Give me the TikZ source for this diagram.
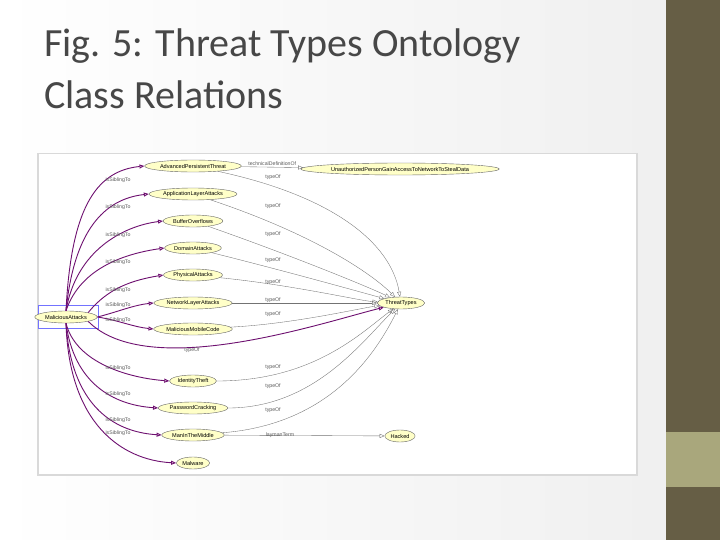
\documentclass[tikz,border=0pt]{standalone}
\usepackage{fontspec}
\setmainfont{Liberation Sans}
\newfontfamily\titlefont{Carlito}
\usetikzlibrary{shapes.geometric,arrows.meta}
\definecolor{olive}{HTML}{665E45}
\definecolor{khaki}{HTML}{A9A77C}
\definecolor{cls}{HTML}{FFFFC8}
\definecolor{purp}{HTML}{6E1070}
\tikzset{
 cnode/.style={ellipse,draw=black!60,fill=cls,font=\fontsize{5.6}{6.5}\selectfont,inner sep=1.2pt,minimum height=12pt},
 sib/.style={draw=purp,line width=0.9pt,-{Triangle[open,length=5pt,width=4pt]}},
 typ/.style={draw=black!55,line width=0.35pt,-{Triangle[open,length=5pt,width=4pt]}},
 lab/.style={font=\fontsize{5.2}{6}\selectfont,text=black!65,inner sep=0.5pt}
}
\begin{document}
\begin{tikzpicture}[x=1pt,y=-1pt]
\useasboundingbox (0,0) rectangle (720,540);
\fill[white] (0,0) rectangle (720,540);
\shade[left color=white,right color=black!6] (0,0) rectangle (666,540);
\fill[olive] (666,0) rectangle (720,540);
\fill[khaki] (666,432) rectangle (720,487);
\node[anchor=west,font=\titlefont\fontsize{40}{52}\selectfont,text=black!72,align=left,inner sep=0] (title) at (44,69) {Fig. 5: Threat Types Ontology\\Class Relations};
\node[draw=black!15,line width=1.5pt,fill=white,minimum width=599pt,minimum height=321pt,anchor=north west,inner sep=0] (frame) at (37,153) {};
\node[draw=blue!55,line width=0.8pt,minimum width=60pt,minimum height=23pt,inner sep=0] (sel) at (68,317) {};
\node[cnode] (m) at (66,317) {MaliciousAttacks};
\node[cnode] (n1) at (193,166) {AdvancedPersistentThreat};
\node[cnode] (n2) at (193,194) {ApplicationLayerAttacks};
\node[cnode] (n3) at (193,221) {BufferOverflows};
\node[cnode] (n4) at (193,248) {DomainAttacks};
\node[cnode] (n5) at (193,275) {PhysicalAttacks};
\node[cnode] (n6) at (193,303) {NetworkLayerAttacks};
\node[cnode] (n7) at (193,329) {MaliciousMobileCode};
\node[cnode] (n8) at (193,381) {IdentityTheft};
\node[cnode] (n9) at (193,408) {PasswordCracking};
\node[cnode] (n10) at (193,435) {ManInTheMiddle};
\node[cnode] (n11) at (193,463) {Malware};
\node[cnode] (t) at (401,303) {ThreatTypes};
\node[cnode] (h) at (400,436) {Hacked};
\node[cnode] (u) at (400,169) {UnauthorizedPersonGainAccessToNetworkToStealData};
% sibling edges
\draw[sib] (m.north) .. controls +(5,-100) and +(-50,5) .. (n1.west);
\draw[sib] (m.north) .. controls +(8,-80) and +(-45,5) .. (n2.west);
\draw[sib] (m.north) .. controls +(10,-60) and +(-40,5) .. (n3.west);
\draw[sib] (m.north) .. controls +(15,-45) and +(-35,5) .. (n4.west);
\draw[sib] (m.north east) .. controls +(20,-25) and +(-30,5) .. (n5.west);
\draw[sib] (m.east) .. controls +(20,-5) and +(-20,2) .. (n6.west);
\draw[sib] (m.east) .. controls +(20,3) and +(-20,-2) .. (n7.west);
\draw[sib] (m.south) .. controls +(10,40) and +(-40,-3) .. (n8.west);
\draw[sib] (m.south) .. controls +(8,60) and +(-45,-3) .. (n9.west);
\draw[sib] (m.south) .. controls +(5,80) and +(-50,-3) .. (n10.west);
\draw[sib] (m.south) .. controls +(3,100) and +(-55,-3) .. (n11.west);
\foreach \y in {180,207,235,262,290,305,320,368,394,420,433}{\node[lab] at (118,\y) {isSiblingTo};}
% typeOf edges
\draw[typ] (n1) .. controls +(140,30) and +(-10,-60) .. (t);
\draw[typ] (n2) .. controls +(120,40) and +(-30,-30) .. (t);
\draw[typ] (n3) .. controls +(100,35) and +(-30,-15) .. (t);
\draw[typ] (n4) .. controls +(100,25) and +(-30,-8) .. (t);
\draw[typ] (n5) .. controls +(100,10) and +(-40,-2) .. (t);
\draw[typ] (n6) -- (t);
\draw[typ] (n7) .. controls +(100,-5) and +(-40,5) .. (t);
\draw[typ] (n8) .. controls +(120,0) and +(-40,30) .. (t);
\draw[typ] (n9) .. controls +(120,0) and +(-40,40) .. (t);
\draw[typ] (n10) .. controls +(130,-10) and +(-30,60) .. (t);
\draw[sib] (m.south east) .. controls +(60,60) and +(-80,20) .. (t);
\draw[typ] (n1) -- node[lab,above,yshift=0.5pt]{technicalDefinitionOf} (u);
\draw[typ] (n10) -- (h);
\foreach \y/\t in {177/typeOf,206/typeOf,234/typeOf,260/typeOf,282/typeOf,300/typeOf,314/typeOf,367/typeOf,386/typeOf,410/typeOf}{\node[lab] at (273,\y) {\t};}
\node[lab] at (192,350) {typeOf};
\node[lab] at (280,435) {laymanTerm};
\end{tikzpicture}
\end{document}
